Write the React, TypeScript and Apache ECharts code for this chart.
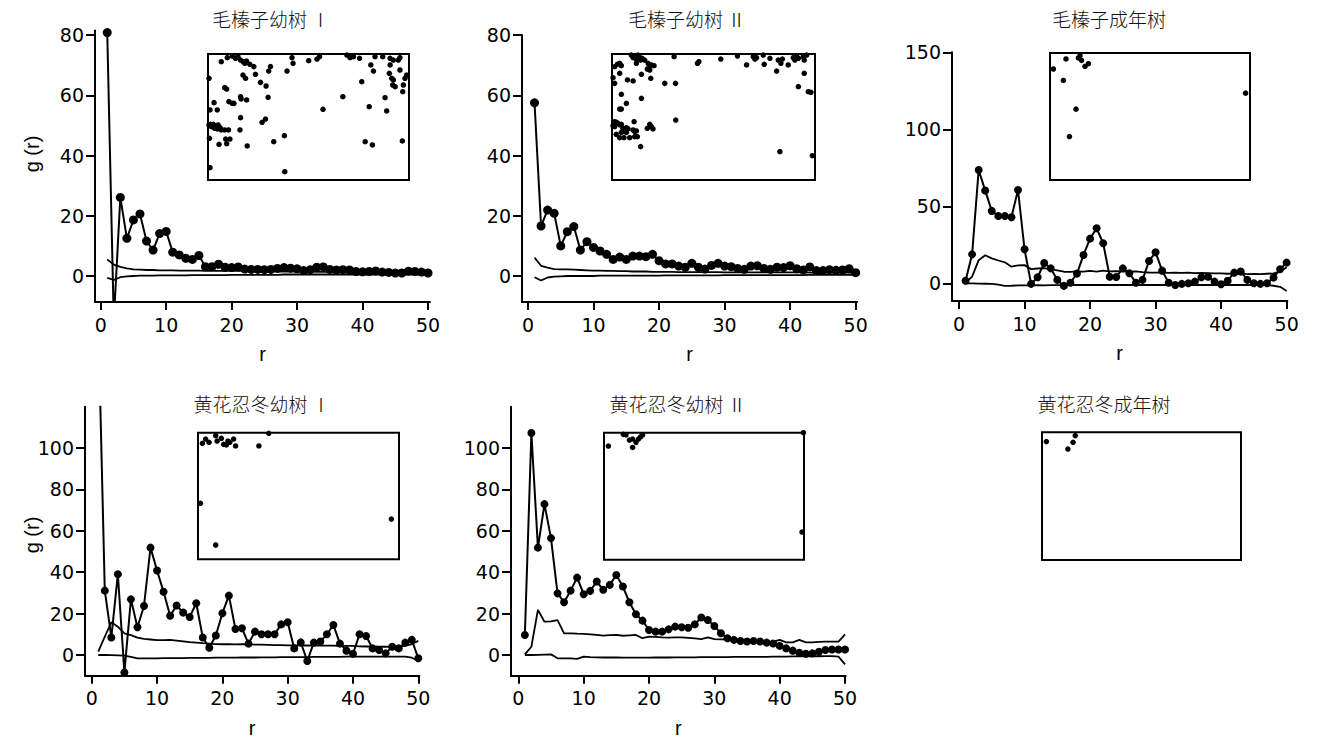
import React, { useEffect, useRef } from "react";
import * as echarts from "echarts";

// distance r (1..50)
const R = [
  1, 2, 3, 4, 5, 6, 7, 8, 9, 10, 11, 12, 13, 14, 15, 16, 17, 18, 19, 20,
  21, 22, 23, 24, 25, 26, 27, 28, 29, 30, 31, 32, 33, 34, 35, 36, 37, 38, 39, 40,
  41, 42, 43, 44, 45, 46, 47, 48, 49, 50,
];
const X_TICKS = [0, 10, 20, 30, 40, 50];
const Y_TICKS_80 = [0, 20, 40, 60, 80];
const Y_TICKS_150 = [0, 50, 100, 150];
const Y_TICKS_100 = [0, 20, 40, 60, 80, 100];

const TITLES = ["毛榛子幼树 Ⅰ", "毛榛子幼树 Ⅱ", "毛榛子成年树", "黄花忍冬幼树 Ⅰ", "黄花忍冬幼树 Ⅱ", "黄花忍冬成年树"];

// 毛榛子幼树 I
const P1_OBS = [80.8, -15, 26.1, 12.5, 18.6, 20.6, 11.6, 8.6, 14.1, 14.8, 7.9, 7.0, 5.9, 5.5, 6.8, 3.1, 3.1, 3.9, 2.9, 2.8, 3.0, 2.3, 2.2, 2.2, 2.1, 2.2, 2.5, 2.8, 2.6, 2.4, 1.8, 2.1, 2.9, 3.0, 2.2, 2.0, 2.1, 2.0, 1.5, 1.4, 1.5, 1.7, 1.3, 1.2, 1.0, 1.0, 1.6, 1.5, 1.3, 1.0];
const P1_UP = [5.5, 3.8, 3.0, 2.5, 2.2, 2.1, 2.0, 2.0, 1.9, 1.9, 1.9, 1.8, 1.8, 1.8, 1.8, 1.7, 1.7, 1.7, 1.7, 1.7, 1.7, 1.6, 1.6, 1.6, 1.6, 1.6, 1.5, 1.5, 1.5, 1.5, 1.5, 1.5, 1.4, 1.4, 1.4, 1.4, 1.4, 1.3, 1.3, 1.3, 1.3, 1.3, 1.3, 1.2, 1.2, 1.2, 1.2, 1.2, 1.1, 1.1];
const P1_LO = [-0.6, -1.3, -0.4, -0.1, 0.0, 0.1, 0.1, 0.1, 0.2, 0.2, 0.2, 0.2, 0.2, 0.3, 0.3, 0.3, 0.3, 0.3, 0.3, 0.4, 0.4, 0.4, 0.4, 0.4, 0.4, 0.4, 0.4, 0.5, 0.5, 0.5, 0.5, 0.5, 0.5, 0.5, 0.5, 0.5, 0.5, 0.5, 0.5, 0.5, 0.5, 0.5, 0.5, 0.5, 0.5, 0.5, 0.5, 0.5, 0.5, 0.5];

// 毛榛子幼树 II
const P2_OBS = [57.5, 16.6, 21.9, 20.8, 10.0, 14.7, 16.4, 8.6, 11.4, 9.5, 8.3, 7.2, 5.5, 6.3, 5.5, 6.6, 6.6, 6.4, 7.2, 5.1, 4.0, 4.0, 3.3, 2.9, 4.2, 2.9, 2.3, 3.5, 4.2, 3.3, 3.1, 2.5, 2.2, 3.3, 3.4, 2.5, 2.2, 2.9, 2.8, 3.4, 2.4, 2.0, 3.0, 1.8, 1.8, 2.1, 1.9, 2.0, 2.4, 1.1];
const P2_UP = [6.1, 3.4, 2.8, 2.3, 2.2, 2.2, 2.1, 2.0, 1.9, 1.8, 1.8, 1.7, 1.7, 1.6, 1.6, 1.5, 1.5, 1.5, 1.4, 1.4, 1.4, 1.4, 1.3, 1.3, 1.3, 1.3, 1.3, 1.3, 1.3, 1.2, 1.2, 1.2, 1.2, 1.2, 1.2, 1.2, 1.2, 1.2, 1.2, 1.2, 1.2, 1.2, 1.1, 1.1, 1.1, 1.1, 1.1, 1.1, 1.1, 1.1];
const P2_LO = [-0.4, -1.5, -0.5, -0.2, -0.1, 0.0, 0.0, 0.0, 0.0, 0.0, 0.1, 0.1, 0.1, 0.1, 0.1, 0.1, 0.1, 0.1, 0.1, 0.1, 0.2, 0.2, 0.2, 0.2, 0.2, 0.2, 0.2, 0.2, 0.2, 0.3, 0.3, 0.3, 0.3, 0.3, 0.3, 0.3, 0.3, 0.3, 0.3, 0.3, 0.3, 0.3, 0.4, 0.4, 0.4, 0.4, 0.4, 0.4, 0.4, 0.4];

// 毛榛子成年树
const P3_OBS = [1.7, 18.8, 73.6, 60.2, 47.0, 43.7, 43.7, 42.9, 60.6, 22.1, -0.4, 3.9, 13.2, 9.7, 2.2, -1.7, 0.4, 6.3, 18.4, 29.0, 35.7, 26.0, 4.3, 4.1, 9.7, 6.5, 0.4, 2.2, 14.5, 20.1, 8.2, 0.4, -1.1, -0.4, 0.0, 1.1, 3.9, 4.3, 1.1, -0.6, 1.7, 6.9, 7.6, 2.2, 0.0, -0.4, 0.0, 3.7, 9.1, 13.4];
const P3_UP = [0.3, 4.3, 15.0, 18.2, 16.2, 14.8, 13.6, 10.8, 11.6, 11.8, 9.2, 9.6, 9.8, 9.1, 8.4, 7.5, 7.4, 7.8, 7.6, 8.0, 7.6, 8.2, 7.7, 7.9, 7.8, 7.5, 7.7, 7.3, 7.0, 6.9, 7.0, 6.8, 6.9, 6.8, 6.9, 6.6, 6.7, 6.6, 6.5, 6.5, 6.2, 6.3, 6.4, 6.0, 6.1, 6.0, 6.2, 6.4, 7.5, 10.4];
const P3_LO = [0.0, -0.1, -0.2, -0.3, -0.4, -0.8, -1.7, -1.6, -1.4, -1.3, -1.3, -1.2, -1.3, -1.2, -1.2, -1.2, -1.1, -1.1, -1.1, -1.1, -1.1, -1.1, -1.1, -1.1, -1.1, -1.1, -1.1, -1.1, -1.1, -1.1, -1.1, -1.1, -1.1, -1.1, -1.1, -1.1, -1.1, -1.1, -1.1, -1.1, -1.1, -1.1, -1.1, -1.1, -1.1, -1.1, -1.2, -1.6, -2.3, -5.0];

// 黄花忍冬幼树 I
const P4_OBS = [162, 31.1, 8.5, 39.0, -8.4, 26.9, 13.4, 23.7, 51.9, 40.8, 30.6, 19.0, 23.9, 20.5, 18.4, 25.0, 8.5, 3.5, 9.4, 20.2, 28.7, 12.6, 12.9, 5.5, 11.3, 10.0, 10.0, 10.0, 14.8, 15.8, 3.2, 6.1, -2.9, 6.0, 6.5, 10.0, 14.5, 5.5, 2.1, 0.6, 10.0, 9.2, 3.2, 2.4, 0.8, 4.0, 3.2, 6.0, 7.3, -1.6];
const P4_UP = [1.6, 8.9, 15.8, 13.7, 10.5, 9.6, 8.4, 7.8, 7.5, 7.2, 7.2, 7.3, 7.0, 6.6, 6.2, 6.0, 5.7, 5.5, 5.3, 5.2, 5.2, 5.1, 5.2, 5.1, 5.0, 5.0, 4.9, 4.8, 4.8, 4.7, 4.7, 4.6, 4.6, 4.5, 4.5, 4.5, 4.5, 4.4, 4.4, 4.4, 4.2, 4.1, 4.1, 4.0, 4.0, 4.0, 4.1, 4.4, 5.3, 6.8];
const P4_LO = [0.0, 0.0, -0.1, -0.2, -0.3, -0.9, -1.6, -1.6, -1.6, -1.6, -1.5, -1.5, -1.5, -1.5, -1.4, -1.4, -1.4, -1.4, -1.3, -1.3, -1.3, -1.3, -1.2, -1.2, -1.2, -1.1, -1.1, -1.1, -1.0, -1.0, -1.0, -1.0, -1.0, -0.9, -0.9, -0.9, -0.9, -0.9, -0.8, -0.8, -0.8, -0.8, -0.8, -0.8, -0.8, -0.8, -0.8, -0.8, -1.3, -2.9];

// 黄花忍冬幼树 II
const P5_OBS = [9.7, 107.3, 51.9, 72.9, 56.5, 29.8, 25.5, 31.1, 37.4, 29.4, 31.0, 35.5, 31.5, 33.9, 38.7, 33.1, 25.5, 19.7, 16.6, 12.1, 11.3, 11.3, 12.4, 13.7, 13.4, 13.2, 14.8, 18.1, 16.9, 14.0, 10.5, 8.1, 7.3, 6.8, 6.5, 6.8, 6.5, 6.0, 5.6, 4.4, 3.2, 2.1, 1.1, 0.6, 0.8, 1.6, 2.4, 2.7, 2.7, 2.7];
const P5_UP = [0.3, 4.0, 21.8, 16.1, 16.3, 16.9, 10.5, 10.5, 10.3, 10.2, 10.0, 9.7, 9.4, 9.6, 9.7, 9.3, 9.5, 9.7, 8.1, 8.9, 8.8, 8.5, 8.4, 8.5, 8.5, 8.3, 8.0, 7.7, 8.5, 7.7, 7.6, 7.5, 7.4, 7.3, 7.3, 7.2, 6.8, 6.1, 6.5, 7.3, 6.1, 6.1, 7.3, 6.1, 6.1, 6.3, 6.5, 6.5, 6.5, 10.0];
const P5_LO = [0.0, 0.0, 0.1, 0.2, 0.3, -1.6, -1.6, -1.6, -1.9, -0.8, -1.0, -1.1, -1.2, -1.2, -1.2, -1.3, -1.3, -1.3, -1.3, -1.3, -1.2, -1.2, -1.2, -1.1, -1.1, -1.1, -1.1, -1.0, -1.0, -1.0, -1.0, -1.0, -0.9, -0.9, -0.9, -0.9, -0.9, -0.9, -0.8, -0.8, -0.8, -0.7, -0.7, -0.6, -0.6, -0.6, -0.5, -0.5, -0.8, -4.5];

// inset stem maps (x, y in % of plot)
const M1 = [[6.6,93.9],[9.6,97.1],[12.1,98.4],[13.7,96.6],[14.9,97.9],[16.2,95.2],[17.5,93.9],[18.3,92.6],[19.2,94.4],[20.8,91.8],[22.8,90],[31.1,90],[30.2,86.5],[39.3,86.5],[41.8,97.1],[42.3,92.6],[50.1,94.7],[54.2,96],[55.5,97.9],[69.1,99.2],[70.7,97.1],[72.4,97.9],[75.4,96.6],[83.1,97.9],[86.9,97.9],[90.6,96.6],[92.2,95.2],[94.7,95.2],[95.5,97.1],[81,91.3],[82.3,86.5],[90.6,91.3],[95.5,87.3],[98.8,83.3],[98,80.7],[90.2,84.7],[91.4,80.7],[92.2,79.4],[91.9,75.4],[93.1,74.1],[97.2,75.4],[96.9,70.1],[76.5,78],[88.1,65.3],[88.9,54.8],[80.2,58.2],[67.1,66.1],[57.2,56.1],[0.5,80.7],[8.3,73.3],[9.3,72.2],[17.4,83.3],[18.7,80.7],[23.6,83.9],[26.1,77.5],[28.9,74.6],[29.9,65.6],[16.2,66.1],[16.5,64.3],[19.2,63.5],[10.4,62.2],[12.1,60.8],[12.9,60.8],[3,61.4],[1,55.6],[4.6,55.6],[16.2,49.5],[28.6,48.4],[26.9,45.8],[15.9,39.7],[1.3,44.2],[0.5,43.7],[1.7,42.3],[2.6,44.2],[3.8,43.1],[5,43.7],[6,41.5],[6.6,39.7],[3.3,41],[4.6,40.5],[8.3,39.7],[10.2,39.7],[0.7,33.1],[8.8,32.5],[10.9,32.5],[9.3,28.8],[5.5,28.3],[19.5,27],[32.7,30.4],[38,35.2],[78.2,30.4],[81.8,27.8],[96.7,31],[1,9.8],[38.2,6.6]];
const M2 = [[9.5,99.2],[10.4,97.1],[11.2,98.4],[12,96],[12.8,99.2],[13.7,97.1],[14.1,95.2],[14.8,96.6],[16.1,95.2],[12,92.6],[17.8,92.6],[18.6,90.7],[19.4,91.3],[20.7,90.7],[17.4,88.1],[18.6,87.3],[30.6,97.9],[42.1,92.6],[42.8,93.9],[53.6,96],[61.8,98.4],[66.3,91.3],[69.6,97.9],[70.4,96],[71.2,97.1],[74.5,99.2],[75,91.8],[77.8,96.6],[81.9,95.2],[83.2,92.6],[83.9,96],[86.8,91.3],[89.3,97.1],[90.1,95.2],[91,97.9],[91.8,96.6],[94.2,97.9],[94.7,95.2],[95.9,99.2],[81.1,86.5],[94.7,84.7],[91.8,74.1],[96.7,70.1],[98,69.6],[1.3,89.9],[2.6,91.8],[3.8,92.6],[4.6,90.7],[3.8,84.7],[0.5,81.2],[1.3,76.7],[7.6,79.4],[10.4,78.6],[14.5,83.9],[19.1,80.7],[26,76.7],[31.3,76.7],[4.6,68],[14.5,64.8],[7.1,60.8],[3.8,56.3],[4.6,56.3],[1.3,46.3],[2.1,45.8],[3,45],[3.8,43.7],[4.6,44.2],[0.5,43.1],[1.3,42.3],[5.4,41],[6.3,39.7],[7.1,41.5],[7.9,40.5],[10.4,39.7],[11.2,38.4],[10.9,46.3],[12,38.9],[4.6,37.8],[5.9,38.4],[7.1,37.8],[2.1,36.2],[3.8,33.6],[5.9,33.6],[8.7,33.6],[11.2,34.4],[12.5,34.4],[18.6,44.2],[19.4,42.3],[20.2,40.5],[17.4,41],[31.4,47.6],[14.1,26.5],[82.7,22.5],[98.7,19.3]];
const M3 = [[1.7,87.4],[6.7,78.4],[8,95.3],[9.7,34.2],[13,55.8],[14.2,96.1],[15,97.9],[15.8,94.2],[17.5,89.5],[19.2,91.6],[97.8,68.4]];
const M4 = [[2.2,91.6],[3.8,95],[5.5,92.4],[8.8,97.6],[9.5,93.4],[11.6,95.5],[12.8,90.8],[14.1,90.3],[14.9,93.4],[15.8,92.4],[17.7,95],[18.7,89.5],[30.3,89.5],[35.2,99.5],[1.2,44.2],[8.8,11.3],[96.2,31.8]];
const M5 = [[2.2,89.5],[9.7,98.7],[11,98.2],[12.7,94.2],[14.3,95],[14.3,88.4],[16,92.4],[17.2,95],[18.3,96.8],[19.3,98.2],[99.7,100],[99,21.8]];
const M6 = [[2.2,92.7],[13,86.9],[15.6,92.2],[16.7,97.4]];

const FONT_NUM = "DejaVu Sans";
const FONT_LABEL = "Liberation Sans";
const FONT_CJK = "Noto Sans CJK SC";

type Main = {
  g: number[]; x: number[]; y: number[]; yt: number[];
  obs: number[]; up: number[]; lo: number[]; dot: number;
};

const MAINS: Main[] = [
  { g: [95, 30.5, 335, 271.5], x: [-0.87, 50.3], y: [-8.63, 81.5], yt: Y_TICKS_80, obs: P1_OBS, up: P1_UP, lo: P1_LO, dot: 9 },
  { g: [522, 35, 335, 267], x: [-0.91, 50.2], y: [-8.63, 80], yt: Y_TICKS_80, obs: P2_OBS, up: P2_UP, lo: P2_LO, dot: 9 },
  { g: [952, 52.3, 335.3, 248.7], x: [-1.07, 50.1], y: [-11.5, 150], yt: Y_TICKS_150, obs: P3_OBS, up: P3_UP, lo: P3_LO, dot: 8 },
  { g: [85, 406.7, 334.3, 269], x: [-1.03, 50.15], y: [-10, 120], yt: Y_TICKS_100, obs: P4_OBS, up: P4_UP, lo: P4_LO, dot: 8 },
  { g: [511, 406.7, 334.7, 269], x: [-1.12, 50.1], y: [-10, 120], yt: Y_TICKS_100, obs: P5_OBS, up: P5_UP, lo: P5_LO, dot: 8 },
];

const INSETS: { g: number[]; pts: number[][] }[] = [
  { g: [208, 54, 201, 126], pts: M1 },
  { g: [612, 54, 203, 126], pts: M2 },
  { g: [1050, 53, 200, 127], pts: M3 },
  { g: [198, 432.7, 201, 126.6], pts: M4 },
  { g: [604, 432.7, 200, 127], pts: M5 },
  { g: [1042, 432.3, 199, 127.7], pts: M6 },
];

const TITLE_POS = [[271, 18], [687, 18], [1109, 18], [262, 403], [678, 403], [1104, 403]];
const YLABEL_POS = [[32, 154], [32, 535]];

function buildOption() {
  const grids: any[] = [];
  const xAxes: any[] = [];
  const yAxes: any[] = [];
  const series: any[] = [];
  const axisStyle = { color: "#000", width: 2 };
  const numText = { color: "#000", fontSize: 19, fontFamily: FONT_NUM };

  MAINS.forEach((p) => {
    const gi = grids.length;
    grids.push({ left: p.g[0], top: p.g[1], width: p.g[2], height: p.g[3], show: false, containLabel: false, outerBoundsMode: "none" });
    xAxes.push({
      type: "value", gridIndex: gi, min: p.x[0], max: p.x[1],
      axisLine: { onZero: false, lineStyle: axisStyle },
      axisTick: { customValues: X_TICKS, length: 8, lineStyle: axisStyle },
      axisLabel: { customValues: X_TICKS, margin: 13, ...numText },
      splitLine: { show: false },
      name: "r", nameLocation: "middle", nameGap: 42,
      nameTextStyle: { color: "#000", fontSize: 20, fontFamily: FONT_LABEL },
    });
    yAxes.push({
      type: "value", gridIndex: gi, min: p.y[0], max: p.y[1],
      axisLine: { onZero: false, lineStyle: axisStyle },
      axisTick: { customValues: p.yt, length: 9, lineStyle: axisStyle },
      axisLabel: { customValues: p.yt, margin: 11, ...numText },
      splitLine: { show: false },
    });
    const common = { xAxisIndex: gi, yAxisIndex: gi, clip: true, silent: true };
    series.push({ type: "line", ...common, data: R.map((r, i) => [r, p.up[i]]), symbol: "none", showSymbol: false, lineStyle: { color: "#000", width: 1.8 } });
    series.push({ type: "line", ...common, data: R.map((r, i) => [r, p.lo[i]]), symbol: "none", showSymbol: false, lineStyle: { color: "#000", width: 1.8 } });
    series.push({
      type: "line", ...common, data: R.map((r, i) => [r, p.obs[i]]),
      symbol: "circle", symbolSize: p.dot, showSymbol: true, showAllSymbol: true,
      itemStyle: { color: "#000", opacity: 1 }, lineStyle: { color: "#000", width: 2 }, z: 3,
    });
  });

  INSETS.forEach((ins) => {
    const gi = grids.length;
    grids.push({ left: ins.g[0], top: ins.g[1], width: ins.g[2], height: ins.g[3], show: true, borderColor: "#000", borderWidth: 2, backgroundColor: "rgba(0,0,0,0)", containLabel: false, outerBoundsMode: "none", z: 5 });
    xAxes.push({ type: "value", gridIndex: gi, min: 0, max: 100, show: false });
    yAxes.push({ type: "value", gridIndex: gi, min: 0, max: 100, show: false });
    series.push({ type: "scatter", xAxisIndex: gi, yAxisIndex: gi, data: ins.pts, symbolSize: 5.5, itemStyle: { color: "#000", opacity: 1 }, clip: false, silent: true, z: 6 });
  });

  const graphic: any[] = [];
  TITLES.forEach((t, i) => {
    graphic.push({
      type: "text", x: TITLE_POS[i][0], y: TITLE_POS[i][1], silent: true,
      style: { text: t, fill: "#111", fontSize: 19, fontFamily: FONT_CJK, fontWeight: 300, align: "center", verticalAlign: "middle" },
    });
  });
  YLABEL_POS.forEach((pos) => {
    graphic.push({
      type: "text", x: pos[0], y: pos[1], rotation: Math.PI / 2, silent: true,
      style: { text: "g (r)", fill: "#000", fontSize: 20, fontFamily: FONT_LABEL, align: "center", verticalAlign: "middle" },
    });
  });

  return {
    animation: false,
    backgroundColor: "#fff",
    grid: grids,
    xAxis: xAxes,
    yAxis: yAxes,
    series,
    graphic,
  };
}

export default function App() {
  const ref = useRef<HTMLDivElement>(null);
  useEffect(() => {
    if (!ref.current) return;
    const chart = echarts.init(ref.current, null, { renderer: "svg" });
    chart.setOption(buildOption() as any);
    return () => chart.dispose();
  }, []);
  return (
    <div
      ref={ref}
      style={{ position: "fixed", left: 0, top: 0, width: 1317, height: 743, background: "#fff" }}
    />
  );
}
